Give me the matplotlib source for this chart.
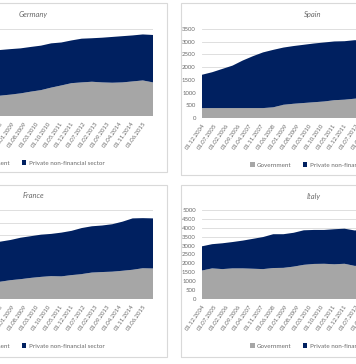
import matplotlib
matplotlib.use('Agg')
import matplotlib.pyplot as plt
from matplotlib.patches import Rectangle

plt.rcParams['font.family'] = ['Lato', 'DejaVu Sans']

# months since 01.12.2004, sampled every 6 months up to 01.12.2015
months = list(range(0, 133, 6))

label_months = list(range(0, 127, 7))
tick_labels = ['01.12.2004', '01.07.2005', '01.02.2006', '01.09.2006', '01.04.2007',
               '01.11.2007', '01.06.2008', '01.01.2009', '01.08.2009', '01.03.2010',
               '01.10.2010', '01.05.2011', '01.12.2011', '01.07.2012', '01.02.2013',
               '01.09.2013', '01.04.2014', '01.11.2014', '01.06.2015']

germany_gov = [860, 870, 880, 890, 900, 910, 925, 935, 985, 1040, 1120, 1190,
               1305, 1405, 1510, 1545, 1575, 1545, 1530, 1545, 1590, 1635, 1545]
germany_priv = [1885, 1895, 1920, 1945, 1975, 2010, 2055, 2100, 2090, 2070, 2055, 2045,
                2035, 1975, 1965, 2010, 2000, 2055, 2105, 2125, 2115, 2115, 2180]

spain_gov = [390, 390, 390, 390, 390, 390, 390, 420, 520, 560, 590, 620,
             650, 700, 720, 760, 800, 850, 900, 940, 970, 1000, 1010]
spain_priv = [1310, 1410, 1540, 1670, 1870, 2040, 2190, 2260, 2250, 2270, 2290, 2310,
              2320, 2310, 2300, 2300, 2250, 2150, 2050, 1960, 1910, 1850, 1810]

france_gov = [600, 610, 620, 630, 640, 650, 665, 680, 740, 780, 830, 870,
              900, 890, 940, 980, 1040, 1060, 1075, 1110, 1150, 1210, 1200]
france_priv = [1200, 1260, 1320, 1380, 1440, 1500, 1545, 1575, 1580, 1630, 1640, 1660,
               1660, 1720, 1740, 1810, 1820, 1830, 1865, 1930, 2020, 1970, 1970]

italy_gov = [1600, 1720, 1680, 1720, 1720, 1700, 1680, 1740, 1750, 1820, 1920, 1970,
             1980, 1950, 1980, 1860, 1880, 1920, 1960, 2000, 2050, 2080, 2100]
italy_priv = [1360, 1360, 1450, 1480, 1560, 1680, 1800, 1900, 1890, 1900, 1940, 1910,
              1900, 1970, 1970, 1990, 2020, 2030, 2020, 2000, 1970, 1970, 1950]

W, H = 356, 364
GRAY = '#a6a6a6'
NAVY = '#002060'
TXT = '#6b6b6b'

fig = plt.figure(figsize=(W / 100, H / 100), dpi=100)
fig.patch.set_facecolor('white')


def px_rect(x0, y0, x1, y1):
    return [x0 / W, 1 - y1 / H, (x1 - x0) / W, (y1 - y0) / H]


def panel(frame, plot, title, title_xy, legend_xy, gov, priv, ymax, ystep):
    fx0, fy0, fx1, fy1 = frame
    fig.add_artist(Rectangle((fx0 / W, 1 - fy1 / H), (fx1 - fx0) / W, (fy1 - fy0) / H,
                             transform=fig.transFigure, fill=False,
                             edgecolor='#d9d9d9', lw=0.8, zorder=-1))
    ax = fig.add_axes(px_rect(*plot))
    ax.set_facecolor('none')
    ax.stackplot(months, gov, priv, colors=[GRAY, NAVY], lw=0,
                 labels=['Government', 'Private non-financial sector'])
    ax.set_xlim(0, 132)
    ax.set_ylim(0, ymax)
    ax.set_yticks(range(0, ymax + 1, ystep))
    ax.yaxis.grid(True, color='#d9d9d9', lw=0.6)
    ax.set_axisbelow(True)
    for s in ax.spines.values():
        s.set_visible(False)
    ax.set_xticks(label_months)
    ax.set_xticklabels(tick_labels, rotation=55, ha='right', va='top',
                       rotation_mode='anchor')
    ax.tick_params(axis='x', length=0, pad=3.5, labelsize=4.3, labelcolor=TXT)
    ax.tick_params(axis='y', length=0, pad=4.5, labelsize=4.3, labelcolor=TXT)
    fig.text(title_xy[0] / W, 1 - title_xy[1] / H, title, ha='center', va='center',
             fontsize=5.5, style='italic', color=TXT)
    ax.legend(loc='center', bbox_to_anchor=(legend_xy[0] / W, 1 - legend_xy[1] / H),
              bbox_transform=fig.transFigure, ncol=2, frameon=False, fontsize=4.5,
              handlelength=0.7, handleheight=0.7, handletextpad=0.4,
              columnspacing=1.8, labelcolor=TXT)
    return ax


panel((-100, 3, 167, 172), (-71, 29, 153, 116), 'Germany', (33, 15), (37, 163),
      germany_gov, germany_priv, 4000, 1000)
panel((181, 3, 460, 175), (202, 29, 426, 118), 'Spain', (313, 15), (318, 165),
      spain_gov, spain_priv, 3500, 500)
panel((-100, 185, 167, 357), (-71, 210, 153, 299), 'France', (33, 196), (37, 346),
      france_gov, france_priv, 3500, 500)
panel((181, 185, 460, 357), (202, 210, 426, 299), 'Italy', (314, 196), (318, 346),
      italy_gov, italy_priv, 5000, 500)

fig.savefig('out.png', dpi=100, facecolor='white')
